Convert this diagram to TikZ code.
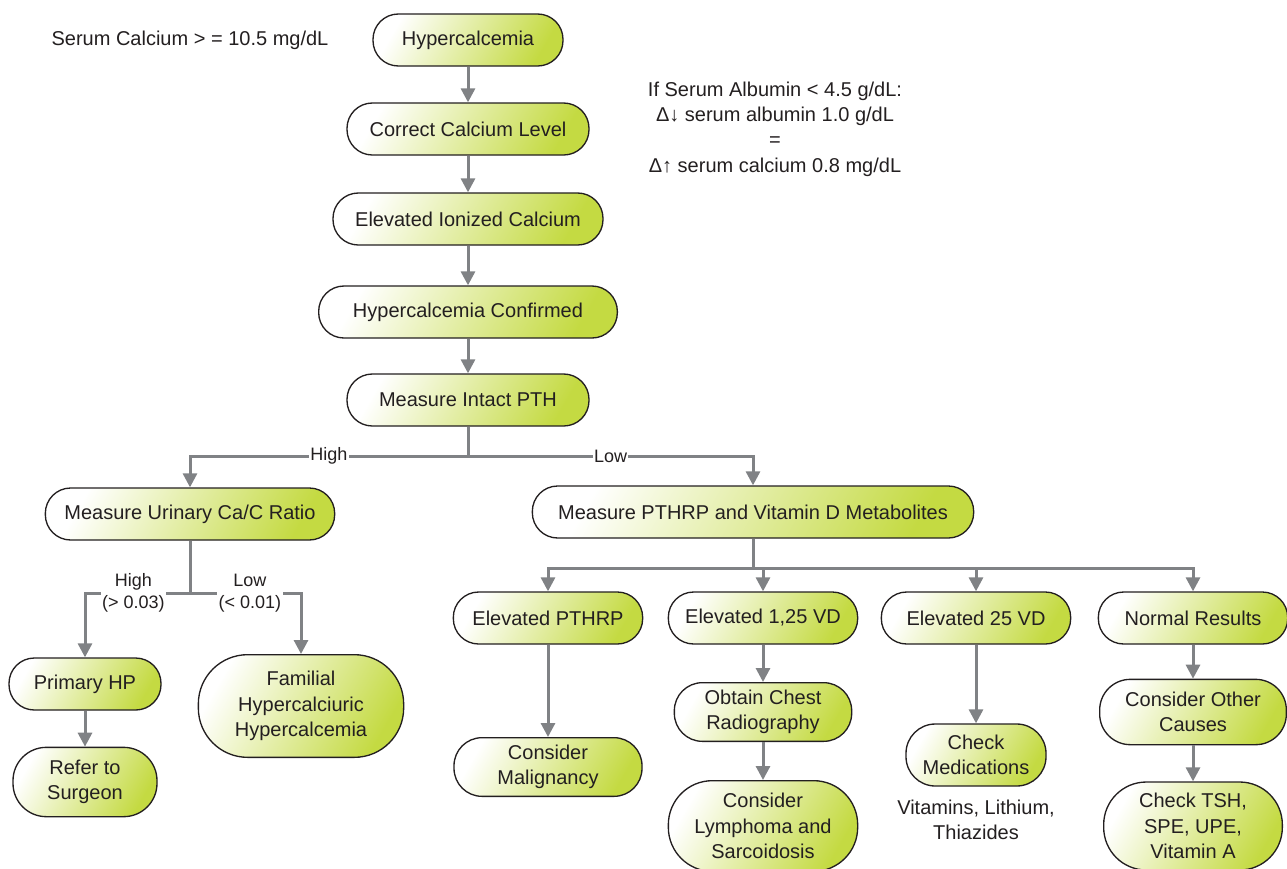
\documentclass[tikz,border=0pt]{standalone}
\usepackage{fontspec}
\setmainfont{Liberation Sans}
\usetikzlibrary{arrows.meta, positioning}
\definecolor{nodegreen}{RGB}{196,218,66}
\definecolor{linkgray}{RGB}{128,130,133}
\definecolor{inkcolor}{RGB}{35,31,32}

\begin{document}
\begin{tikzpicture}[
    x=0.75pt, y=-0.75pt,
    box/.style={draw=inkcolor, line width=1pt, top color=white, bottom color=nodegreen, shading angle=60, rounded corners=19pt, minimum height=39pt, inner xsep=3pt, inner ysep=2pt, font=\fontsize{15}{19}\selectfont, text=inkcolor, align=center},
    tallbox/.style={box, rounded corners=37pt},
    link/.style={linkgray, line width=2.25pt},
    arrow/.style={link, -{Triangle[length=10.5pt, width=10.5pt]}},
    branch/.style={fill=white, inner sep=1pt, font=\fontsize{13.5}{16.5}\selectfont, text=inkcolor, align=center},
    note/.style={font=\fontsize{15}{19}\selectfont, text=inkcolor, align=center}
]
    \useasboundingbox (0,0) rectangle (1287,868);

    % Notes
    \node[note] (serum) at (190,40) {Serum Calcium > = 10.5 mg/dL};
    \node[note] (albumin) at (775,129) {If Serum Albumin < 4.5 g/dL:\\Δ↓ serum albumin 1.0 g/dL\\=\\Δ↑ serum calcium 0.8 mg/dL};

    % Main column
    \node[box, minimum width=142.5pt] (hyper) at (468,40) {Hypercalcemia};
    \node[box, minimum width=181.5pt] (correct) at (468,129) {Correct Calcium Level};
    \node[box, minimum width=202.5pt] (ionized) at (468,219) {Elevated Ionized Calcium};
    \node[box, minimum width=224pt] (confirmed) at (468,312) {Hypercalcemia Confirmed};
    \node[box, minimum width=181.5pt] (pth) at (468,400) {Measure Intact PTH};

    % High PTH side
    \node[box, minimum width=217pt] (urinary) at (190,514) {Measure Urinary Ca/C Ratio};
    \node[box, minimum width=114pt] (primary) at (85,684) {Primary HP};
    \node[box, minimum width=108pt, minimum height=52pt, rounded corners=25pt] (surgeon) at (85,782) {Refer to\\Surgeon};
    \node[tallbox, minimum width=154pt, minimum height=77pt] (familial) at (301,706) {Familial\\Hypercalciuric\\Hypercalcemia};

    % Low PTH side
    \node[box, minimum width=331pt] (pthrp) at (753,512) {Measure PTHRP and Vitamin D Metabolites};
    \node[box, minimum width=142pt] (elpthrp) at (548,618) {Elevated PTHRP};
    \node[box, minimum width=142pt] (vd125) at (763,618) {Elevated 1,25 VD};
    \node[box, minimum width=142pt] (vd25) at (976,618) {Elevated 25 VD};
    \node[box, minimum width=142pt] (normal) at (1193,618) {Normal Results};

    \node[box, minimum width=141pt, minimum height=44pt, rounded corners=21pt] (malig) at (548,767) {Consider\\Malignancy};
    \node[box, minimum width=133pt, minimum height=44pt, rounded corners=21pt] (chest) at (763,712) {Obtain Chest\\Radiography};
    \node[tallbox, minimum width=142pt, minimum height=68pt, rounded corners=33pt] (lymph) at (763,826) {Consider\\Lymphoma and\\Sarcoidosis};
    \node[box, minimum width=105pt, minimum height=46.5pt, rounded corners=22pt] (meds) at (976,755) {Check\\Medications};
    \node[note] (vitamins) at (976,820) {Vitamins, Lithium,\\Thiazides};
    \node[box, minimum width=140pt, minimum height=49pt, rounded corners=23pt] (other) at (1193,712) {Consider Other\\Causes};
    \node[tallbox, minimum width=134pt, minimum height=66pt, rounded corners=32pt] (tsh) at (1193,826) {Check TSH,\\SPE, UPE,\\Vitamin A};

    % Split points
    \coordinate (pthsplit) at (468,456);
    \coordinate (ratiosplit) at (190,593);
    \coordinate (metasplit) at (753,568);

    % Connections
    \draw[arrow] (hyper) -- (correct);
    \draw[arrow] (correct) -- (ionized);
    \draw[arrow] (ionized) -- (confirmed);
    \draw[arrow] (confirmed) -- (pth);
    \draw[link] (pth) -- (pthsplit);
    \draw[arrow] (pthsplit) -| node[pos=0.25, branch] {High} (urinary);
    \draw[arrow] (pthsplit) -| node[pos=0.25, branch] {Low} (pthrp);

    \draw[link] (urinary) -- (ratiosplit);
    \draw[arrow] (ratiosplit) -| node[pos=0.27, branch] {High\\(> 0.03)} (primary);
    \draw[arrow] (ratiosplit) -| node[pos=0.27, branch] {Low\\(< 0.01)} (familial);
    \draw[arrow] (primary) -- (surgeon);

    \draw[link] (pthrp) -- (metasplit);
    \draw[arrow] (metasplit) -| (elpthrp);
    \draw[arrow] (metasplit) -| (vd125);
    \draw[arrow] (metasplit) -| (vd25);
    \draw[arrow] (metasplit) -| (normal);

    \draw[arrow] (elpthrp) -- (malig);
    \draw[arrow] (vd125) -- (chest);
    \draw[arrow] (chest) -- (lymph);
    \draw[arrow] (vd25) -- (meds);
    \draw[arrow] (normal) -- (other);
    \draw[arrow] (other) -- (tsh);
\end{tikzpicture}
\end{document}
